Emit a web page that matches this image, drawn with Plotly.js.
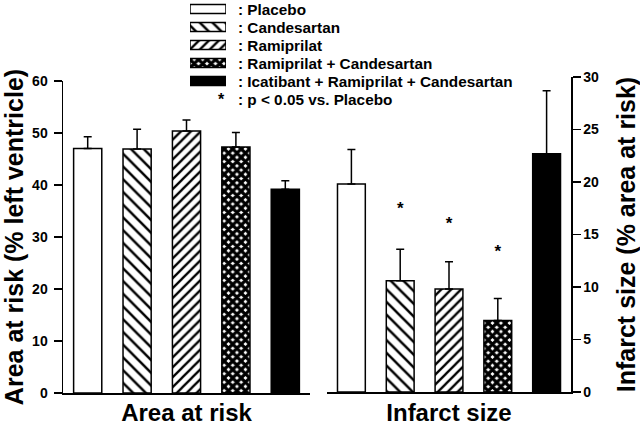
<!DOCTYPE html>
<html><head><meta charset="utf-8">
<script src="https://cdn.plot.ly/plotly-3.0.1.min.js"></script>
<style>html,body{margin:0;padding:0;background:#fff}#chart{width:640px;height:426px}</style>
</head><body><div id="chart"></div>
<script>
// ---- data ----
const groups = ['Placebo', 'Candesartan', 'Ramiprilat', 'Ramiprilat + Candesartan', 'Icatibant + Ramiprilat + Candesartan'];
const areaAtRisk = [47.0, 46.9, 50.4, 47.3, 39.2];
const areaAtRiskSEM = [2.3, 3.8, 2.1, 2.8, 1.6];
const infarctSize = [19.8, 10.6, 9.8, 6.8, 22.7];
const infarctSizeSEM = [3.3, 3.0, 2.6, 2.1, 6.0];
const sigGroups = ['Candesartan', 'Ramiprilat', 'Ramiprilat + Candesartan'];
const sigMarkY = [17.4, 15.9, 13.3];
const sigNote = 'p < 0.05 vs. Placebo';
const leftTicks = [0, 10, 20, 30, 40, 50, 60];
const rightTicks = [0, 5, 10, 15, 20, 25, 30];
const leftPanelTitle = 'Area at risk';
const rightPanelTitle = 'Infarct size';
const leftAxisTitle = 'Area at risk (% left ventricle)';
const rightAxisTitle = 'Infarct size (% area at risk)';

// ---- styles (one entry per group) ----
const sty = {
  color:    ['#ffffff', '#ffffff', '#ffffff', '#ffffff', '#000000'],
  shape:    ['', '\\', '/', 'x', ''],
  size:     [8, 9, 7, 6, 8],
  solidity: [0.3, 0.28, 0.33, 0.78, 0.3]
};
function marker(i) {
  const m = {color: sty.color[i], line: {color: '#000', width: 1.5}};
  if (sty.shape[i]) {
    m.pattern = {shape: sty.shape[i], fgcolor: '#000000', bgcolor: sty.color[i],
                 size: sty.size[i], solidity: sty.solidity[i], fillmode: 'replace'};
  }
  return m;
}
const W = 640, H = 426;
const M = {l: 0, r: 60, t: 0, b: 30};
const PW = W - M.l - M.r, PH = H - M.t - M.b;
const dx = px => (px - M.l) / PW;
const dy = py => (PH + M.t - py) / PH;
const font = {family: 'Liberation Sans, Arial, Helvetica, sans-serif', color: '#000', weight: 700};

const traces = [];
groups.forEach((g, i) => {
  traces.push({type: 'bar', x: [g], y: [areaAtRisk[i]], xaxis: 'x', yaxis: 'y', width: 0.57,
    marker: marker(i), showlegend: false, hoverinfo: 'skip',
    error_y: {type: 'data', symmetric: false, array: [areaAtRiskSEM[i]], arrayminus: [0], color: '#000', thickness: 1.5, width: 4}});
  traces.push({type: 'bar', x: [g], y: [infarctSize[i]], xaxis: 'x2', yaxis: 'y2', width: 0.57,
    marker: marker(i), showlegend: false, hoverinfo: 'skip',
    error_y: {type: 'data', symmetric: false, array: [infarctSizeSEM[i]], arrayminus: [0], color: '#000', thickness: 1.5, width: 4}});
  traces.push({type: 'bar', orientation: 'h', y: [g], x: [1], xaxis: 'x3', yaxis: 'y3', width: 0.5,
    marker: marker(i), showlegend: false, hoverinfo: 'skip'});
});
traces.push({type: 'scatter', mode: 'text', x: sigGroups, y: sigMarkY, text: sigGroups.map(() => '*'),
  textfont: {size: 17, color: '#000', family: font.family, weight: 700}, xaxis: 'x2', yaxis: 'y2', showlegend: false, hoverinfo: 'skip'});

const annotations = groups.map((g, i) => ({
  xref: 'paper', yref: 'y3', x: dx(236), y: i, xanchor: 'left', yanchor: 'middle',
  text: ': ' + g, showarrow: false, font: {size: 15.3}
}));
annotations.push({xref: 'paper', yref: 'y3', x: dx(221), y: groups.length, xanchor: 'center', yanchor: 'middle',
  text: '*', showarrow: false, font: {size: 16}});
annotations.push({xref: 'paper', yref: 'y3', x: dx(236), y: groups.length, xanchor: 'left', yanchor: 'middle',
  text: ': ' + sigNote, showarrow: false, font: {size: 15.3}});

const baseY = {showgrid: false, zeroline: false, showline: true, linecolor: '#000', linewidth: 1.5,
  ticks: 'outside', ticklen: 8, tickwidth: 1.5, tickcolor: '#000', tickfont: {size: 14}, fixedrange: true};
const baseX = {type: 'category', categoryorder: 'array', categoryarray: groups, showgrid: false, zeroline: false,
  showline: true, linecolor: '#000', linewidth: 1.5, automargin: true,
  ticks: '', showticklabels: false, range: [-0.5, groups.length - 0.5], fixedrange: true};

const layout = {
  width: W, height: H, margin: M, barmode: 'overlay',
  paper_bgcolor: '#fff', plot_bgcolor: 'rgba(0,0,0,0)', font: font, showlegend: false,
  xaxis: Object.assign({}, baseX, {domain: [dx(63), dx(310)], anchor: 'y',
    title: {text: leftPanelTitle, font: {size: 24}, standoff: 16}}),
  yaxis: Object.assign({}, baseY, {domain: [dy(393), dy(81)], anchor: 'x', range: [0, 60],
    tickvals: leftTicks, ticklabelstandoff: 3, title: {text: leftAxisTitle, font: {size: 25}}}),
  xaxis2: Object.assign({}, baseX, {domain: [dx(327), dx(571)], anchor: 'y2',
    title: {text: rightPanelTitle, font: {size: 24}, standoff: 16}}),
  yaxis2: Object.assign({}, baseY, {domain: [dy(392), dy(77)], anchor: 'x2', side: 'right', range: [0, 30],
    tickvals: rightTicks, title: {text: rightAxisTitle, font: {size: 25}}}),
  xaxis3: {domain: [dx(190), dx(226)], anchor: 'y3', range: [0, 1], visible: false, fixedrange: true},
  yaxis3: {domain: [dy(108), 1], anchor: 'x3', type: 'category', categoryarray: groups.concat(['sig']),
    categoryorder: 'array', range: [groups.length + 0.5, -0.5], visible: false, fixedrange: true},
  annotations: annotations
};

Plotly.newPlot('chart', traces, layout, {staticPlot: true, displayModeBar: false});
</script>
</body></html>
